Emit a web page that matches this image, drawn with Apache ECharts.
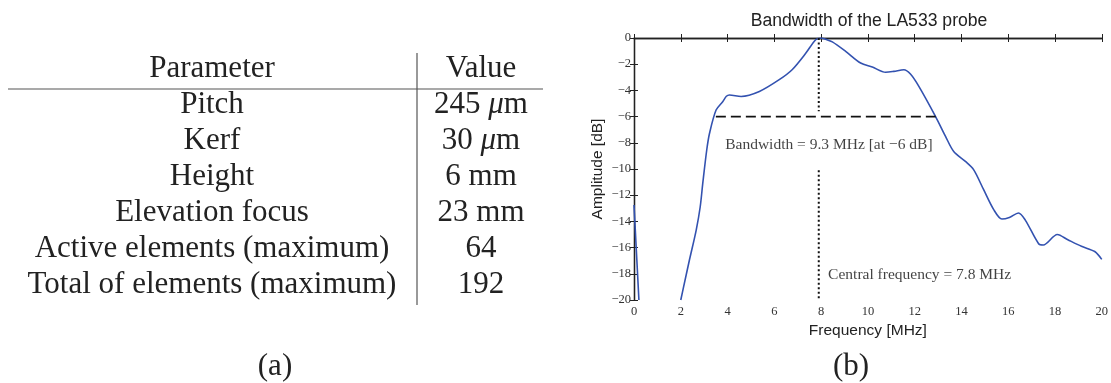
<!DOCTYPE html>
<html>
<head>
<meta charset="utf-8">
<title>LA533 probe</title>
<script src="https://cdn.jsdelivr.net/npm/echarts@6/dist/echarts.min.js"></script>
<style>
  html, body { margin: 0; padding: 0; background: #fff; }
  #chart { width: 1111px; height: 383px; }
</style>
</head>
<body>
<div id="chart"></div>
<script>
// table (a)
var paramNames = ['Pitch', 'Kerf', 'Height', 'Elevation focus', 'Active elements (maximum)', 'Total of elements (maximum)'];
var paramValues = ['245 {i|\u03bc}m', '30 {i|\u03bc}m', '6 mm', '23 mm', '64', '192'];

// plot (b): frequency [MHz] vs amplitude [dB], null = below the plot
var freq = [0, 0.1, 0.21, 1.0, 2.0, 2.12, 2.37, 2.66, 2.83, 2.94, 3.11, 3.23, 3.51, 3.8, 3.95, 4.08, 4.58, 5.36, 6.21, 6.76, 7.35, 7.77, 8.0, 8.2,
  8.48, 9.05, 9.69, 10.19, 10.76, 11.11, 11.54, 11.82, 12.18, 12.89, 13.32, 13.67, 14.17, 14.52, 14.95, 15.38, 15.73, 16.05, 16.44, 16.73,
  17.3, 17.5, 18.1, 18.55, 19.13, 19.7, 20];
var amp = [-12.75, -16.2, -20, null, -20, -19.0, -16.95, -14.66, -12.9, -11.1, -8.55, -7.27, -5.5, -4.85, -4.45, -4.35, -4.46, -4.08, -3.18, -2.42, -1.15, -0.13, 0, -0.1,
  -0.3, -1.02, -1.91, -2.22, -2.62, -2.55, -2.42, -2.75, -3.69, -5.98, -7.51, -8.66, -9.42, -10.05, -11.58, -13.1, -13.82, -13.7, -13.36, -13.9,
  -15.7, -15.8, -15.0, -15.4, -15.9, -16.3, -16.9];
var centralFreq = 7.9;
var bandLevel = -6;
var bandEdges = [3.5, 12.9];
var xTicks = [0, 2, 4, 6, 8, 10, 12, 14, 16, 18, 20];
var yTicks = [0, -2, -4, -6, -8, -10, -12, -14, -16, -18, -20];

var chart = echarts.init(document.getElementById('chart'));

function minus(v) {
  return v < 0 ? '\u2212' + (-v) : String(v);
}

var serif = '"Liberation Serif", "DejaVu Serif", serif';
var sans = '"Liberation Sans", Arial, sans-serif';

// table drawn with graphic elements
var graphics = [];
var rowTop = 69, rowStep = 36, col1 = 212, col2 = 481;
var tableFont = '31px ' + serif;
graphics.push({ type: 'text', x: col1, y: rowTop, style: { text: 'Parameter', font: tableFont, fill: '#222', align: 'center', verticalAlign: 'middle' } });
graphics.push({ type: 'text', x: col2, y: rowTop, style: { text: 'Value', font: tableFont, fill: '#222', align: 'center', verticalAlign: 'middle' } });
for (var i = 0; i < paramNames.length; i++) {
  var y = rowTop + rowStep * (i + 1);
  graphics.push({ type: 'text', x: col1, y: y, style: { text: paramNames[i], font: tableFont, fill: '#222', align: 'center', verticalAlign: 'middle' } });
  graphics.push({ type: 'text', x: col2, y: y, style: {
    text: paramValues[i], font: tableFont, fill: '#222', align: 'center', verticalAlign: 'middle',
    rich: { i: { fontStyle: 'italic', fontFamily: serif, fontSize: 31, fill: '#222' } }
  } });
}
graphics.push({ type: 'line', shape: { x1: 8, y1: 89, x2: 543, y2: 89 }, style: { stroke: '#555', lineWidth: 1.2 } });
graphics.push({ type: 'line', shape: { x1: 417, y1: 53, x2: 417, y2: 305 }, style: { stroke: '#555', lineWidth: 1.2 } });
graphics.push({ type: 'text', x: 275, y: 367, style: { text: '(a)', font: '31px ' + serif, fill: '#222', align: 'center', verticalAlign: 'middle' } });
graphics.push({ type: 'text', x: 851, y: 367, style: { text: '(b)', font: '31px ' + serif, fill: '#222', align: 'center', verticalAlign: 'middle' } });
graphics.push({ type: 'text', x: 869, y: 21, style: { text: 'Bandwidth of the LA533 probe', font: '17.6px ' + sans, fill: '#222', align: 'center', verticalAlign: 'middle' } });

var curve = freq.map(function (f, k) { return [f, amp[k] === null ? '-' : amp[k]]; });

var tickStyle = { show: true, inside: true, length: 4, lineStyle: { color: '#222', width: 1 } };
var lineStyleAxis = { show: true, lineStyle: { color: '#222', width: 1.3 } };

option = {
  animation: false,
  graphic: graphics,
  grid: { left: 634, top: 38, width: 468, height: 262, containLabel: false },
  xAxis: [
    {
      type: 'value', min: xTicks[0], max: xTicks[xTicks.length - 1], interval: 2,
      name: 'Frequency [MHz]', nameLocation: 'middle', nameGap: 19,
      nameTextStyle: { fontFamily: sans, fontSize: 15.5, color: '#222' },
      axisLine: lineStyleAxis, axisTick: tickStyle, splitLine: { show: false },
      axisLabel: { fontFamily: serif, fontSize: 12.5, color: '#333', margin: 5, formatter: minus }
    },
    {
      type: 'value', position: 'top', min: xTicks[0], max: xTicks[xTicks.length - 1], interval: 2,
      axisLine: lineStyleAxis, axisTick: tickStyle, splitLine: { show: false }, axisLabel: { show: false }
    }
  ],
  yAxis: [
    {
      type: 'value', min: yTicks[yTicks.length - 1], max: yTicks[0], interval: 2,
      name: 'Amplitude [dB]', nameLocation: 'middle', nameGap: 28,
      nameTextStyle: { fontFamily: sans, fontSize: 15.5, color: '#222' },
      axisLine: lineStyleAxis, axisTick: tickStyle, splitLine: { show: false },
      axisLabel: { fontFamily: serif, fontSize: 12.5, color: '#333', margin: 3, formatter: minus }
    },
    {
      type: 'value', position: 'right', min: yTicks[yTicks.length - 1], max: yTicks[0], interval: 2,
      axisLine: lineStyleAxis, axisTick: tickStyle, splitLine: { show: false }, axisLabel: { show: false }
    }
  ],
  series: [
    {
      name: 'Amplitude', type: 'line', data: curve, smooth: 0.3, showSymbol: false, clip: true,
      connectNulls: false,
      lineStyle: { color: '#3352b0', width: 1.6 }
    },
    {
      name: 'Bandwidth', type: 'line', showSymbol: false,
      data: [[bandEdges[0], bandLevel], [bandEdges[1], bandLevel]],
      lineStyle: { color: '#111', width: 1.7, type: [10, 5] }
    },
    {
      name: 'Central upper', type: 'line', showSymbol: false,
      data: [[centralFreq, 0], [centralFreq, -5.6]],
      lineStyle: { color: '#111', width: 2, type: [2, 2.5] }
    },
    {
      name: 'Central lower', type: 'line', showSymbol: false,
      data: [[centralFreq, -10.1], [centralFreq, -20]],
      lineStyle: { color: '#111', width: 2, type: [2, 2.5] }
    },
    {
      name: 'Notes', type: 'scatter', symbolSize: 0, silent: true,
      data: [
        { value: [3.9, -8.2], label: { formatter: 'Bandwidth = 9.3 MHz [at \u22126 dB]' } },
        { value: [8.3, -18.1], label: { formatter: 'Central frequency = 7.8 MHz' } }
      ],
      label: { show: true, position: 'right', distance: 0, fontFamily: serif, fontSize: 15.5, color: '#111' }
    }
  ]
};
chart.setOption(option);
</script>
</body>
</html>
